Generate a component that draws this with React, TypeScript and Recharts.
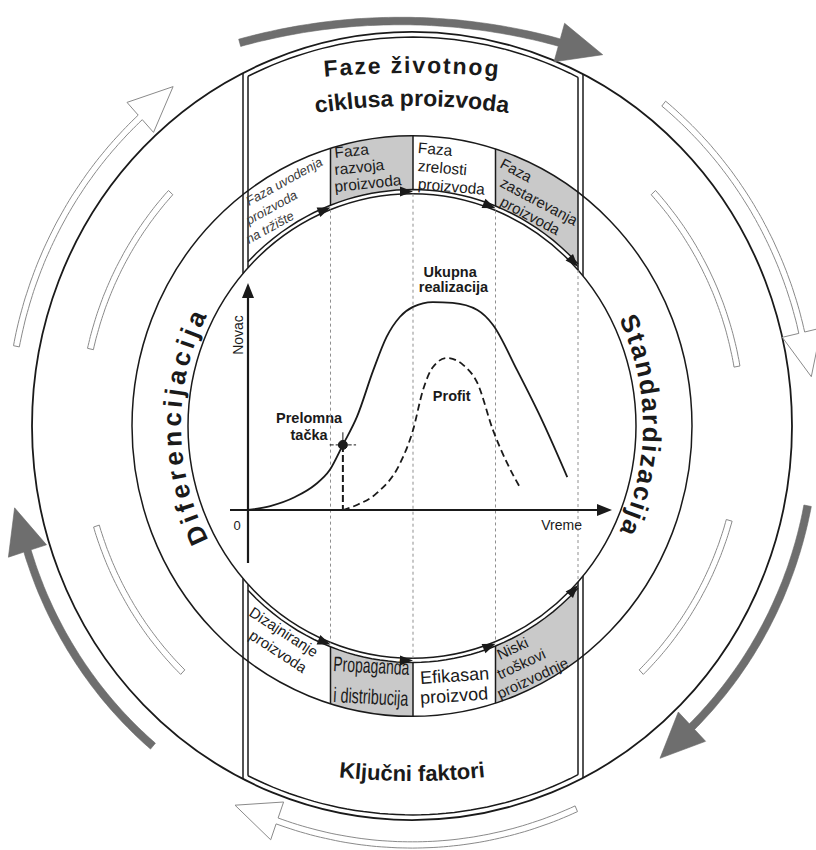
import React from 'react';
import { ComposedChart, Line, XAxis, YAxis, ReferenceLine, ReferenceDot, Customized } from 'recharts';

// time axis in phase units (0..4), money in arbitrary units
const phaseBounds = [1, 2, 3, 4];

const totalT = [0, 0.27, 0.57, 0.81, 0.99, 1.15, 1.32, 1.52, 1.68, 1.84, 2.0, 2.24, 2.48, 2.78, 2.97, 3.26, 3.58, 3.87];
const totalV = [0, 1.9, 6.2, 11.9, 19, 31, 44.3, 66.7, 82.4, 91.9, 96.7, 99, 98.6, 95.2, 88.1, 66.7, 41.4, 15.7];

const profitT = [1.15, 1.32, 1.56, 1.84, 2.0, 2.12, 2.24, 2.41, 2.61, 2.78, 2.97, 3.14, 3.3];
const profitV = [0, 2.4, 8, 22, 38, 57, 68, 72.4, 69, 60.5, 38, 22.4, 10.5];

const breakEvenT = 1.15;
const breakEvenV = 31;

const topPhases = [
  ['Faza uvodenja', 'proizvoda', 'na tržište'],
  ['Faza', 'razvoja', 'proizvoda'],
  ['Faza', 'zrelosti', 'proizvoda'],
  ['Faza', 'zastarevanja', 'proizvoda'],
];
const bottomFactors = [
  ['Dizajniranje', 'proizvoda'],
  ['Propaganda', 'i distribucija'],
  ['Efikasan', 'proizvod'],
  ['Niski', 'troškovi', 'proizvodnje'],
];
const shaded = [false, true, false, true];

const totalData = totalT.map((t, i) => ({ t, v: totalV[i] }));
const profitData = profitT.map((t, i) => ({ t, v: profitV[i] }));

// ---- layout ----
const W = 816;
const H = 850;
const X_DOM: [number, number] = [-0.8, 4.8];
const Y_DOM: [number, number] = [-70, 150];
const MARGIN = { top: 195, right: 172, bottom: 193, left: 182 };
const PW = W - MARGIN.left - MARGIN.right;
const PH = H - MARGIN.top - MARGIN.bottom;
const tx = (t: number) => MARGIN.left + ((t - X_DOM[0]) / (X_DOM[1] - X_DOM[0])) * PW;
const vy = (v: number) => H - MARGIN.bottom - ((v - Y_DOM[0]) / (Y_DOM[1] - Y_DOM[0])) * PH;
const pxT = (x: number) => X_DOM[0] + ((x - MARGIN.left) / PW) * (X_DOM[1] - X_DOM[0]);
const pyV = (y: number) => Y_DOM[0] + ((H - MARGIN.bottom - y) / PH) * (Y_DOM[1] - Y_DOM[0]);

const CX = 412;
const CY = 426;
const K = 1.037;
const R_OUT = 380;
const R_BAND = 375;
const R_MID = 280;
const R_IN = 224;
const R_ARROW = 228;
const INK = '#1a1a1a';
const FONT = "'Liberation Sans', Arial, Helvetica, sans-serif";

const rad = (d: number) => (d * Math.PI) / 180;
type Track = { cx: number; cy: number; r: number; k: number };
const ring = (r: number): Track => ({ cx: CX, cy: CY, r, k: K });
const trackPt = (tr: Track, a: number, off = 0) => [
  tr.cx + (tr.r + off) * Math.sin(rad(a)),
  tr.cy - tr.k * (tr.r + off) * Math.cos(rad(a)),
];
const ringY = (r: number, x: number, upper: boolean) => {
  const d = Math.sqrt(Math.max(0, r * r - (x - CX) ** 2)) * K;
  return upper ? CY - d : CY + d;
};
const span = (r: number, x0: number, x1: number, upper: boolean, n = 40) =>
  Array.from({ length: n + 1 }, (_, i) => {
    const x = x0 + ((x1 - x0) * i) / n;
    return [x, ringY(r, x, upper)];
  });
const pts = (p: number[][]) => p.map((q) => `${q[0].toFixed(1)},${q[1].toFixed(1)}`).join(' ');

const HEAD_L = 45;
const HEAD_W = 20;
function arrowPath(tr: Track, a0: number, a1: number, w: number, head: boolean) {
  const n = 60;
  const outer: number[][] = [];
  const inner: number[][] = [];
  for (let i = 0; i <= n; i++) {
    const a = a0 + ((a1 - a0) * i) / n;
    outer.push(trackPt(tr, a, w / 2));
    inner.push(trackPt(tr, a, -w / 2));
  }
  const p = [...outer];
  if (head) {
    const end = trackPt(tr, a1);
    const nxt = trackPt(tr, a1 + Math.sign(a1 - a0) * 0.5);
    let dx = nxt[0] - end[0];
    let dy = nxt[1] - end[1];
    const l = Math.hypot(dx, dy);
    dx /= l;
    dy /= l;
    const o = trackPt(tr, a1, 1);
    let rx = o[0] - end[0];
    let ry = o[1] - end[1];
    const rl = Math.hypot(rx, ry);
    rx /= rl;
    ry /= rl;
    p.push(
      [end[0] + rx * HEAD_W, end[1] + ry * HEAD_W],
      [end[0] + dx * HEAD_L, end[1] + dy * HEAD_L],
      [end[0] - rx * HEAD_W, end[1] - ry * HEAD_W]
    );
  }
  const all = p.concat(inner.reverse());
  return 'M' + all.map((q) => `${q[0].toFixed(1)},${q[1].toFixed(1)}`).join('L') + 'Z';
}

const grayArrows = [
  { tr: { cx: 400, cy: 621, r: 600, k: 1 }, a0: -15.5, a1: 15.4 },
  { tr: ring(403), a0: 101, a1: 136 },
  { tr: ring(403), a0: 220, a1: 252.6 },
];
const hollowArrows = [
  { tr: ring(403), a0: -79, a1: -42.4, head: true },
  { tr: ring(400), a0: 39, a1: 77, head: true },
  { tr: ring(404), a0: 156, a1: 199.5, head: true },
  { tr: ring(330), a0: -77, a1: -47, head: false },
  { tr: ring(330), a0: 47, a1: 80, head: false },
  { tr: ring(330), a0: 106, a1: 136, head: false },
  { tr: ring(330), a0: 224, a1: 253, head: false },
];

// text placement inside the boxes (start of first line, rotation, step between lines)
const topTextPos = [
  { dx: 1, y: 206, rot: -29, size: 13, step: 19, italic: true },
  { dx: 4.5, y: 158, rot: -6, size: 15.5, step: 17 },
  { dx: 4.5, y: 153, rot: 5, size: 15.5, step: 18 },
  { dx: 3.5, y: 167, rot: 28, size: 15, step: 19 },
];
const bottomTextPos = [
  { dx: 0, y: 615, rot: 33, size: 15, step: 23 },
  { dx: 2.5, y: 671, rot: 3, size: 21, step: 31, fit: 76 },
  { dx: 7.5, y: 684, rot: -4, size: 18, step: 20 },
  { dx: 4.5, y: 660, rot: -25, size: 15, step: 19.5 },
];

const arcD = (tr: Track, a0: number, a1: number, sweep: number) => {
  const s = trackPt(tr, a0);
  const e = trackPt(tr, a1);
  return `M${s[0]},${s[1]} A${tr.r},${tr.r * tr.k} 0 0 ${sweep} ${e[0]},${e[1]}`;
};

function Decor() {
  const bx = [0, 1, 2, 3, 4].map(tx);
  const sides = [true, false];

  const smallHead = (x: number, upper: boolean, key: string) => {
    const r = R_IN + 2;
    const tip = [x, ringY(r, x, upper)];
    const prev = [x - 1, ringY(r, x - 1, upper)];
    let dx = tip[0] - prev[0];
    let dy = tip[1] - prev[1];
    const l = Math.hypot(dx, dy);
    dx /= l;
    dy /= l;
    const b = [tip[0] - dx * 13, tip[1] - dy * 13];
    return (
      <polygon
        key={key}
        points={pts([tip, [b[0] - dy * 5, b[1] + dx * 5], [b[0] + dy * 5, b[1] - dx * 5]])}
        fill={INK}
      />
    );
  };

  return (
    <g>
      <defs>
        <path id="pTitle1" d={arcD({ cx: CX, cy: 1073, r: 1000, k: 1 }, -14, 14, 1)} fill="none" />
        <path id="pTitle2" d={arcD({ cx: CX, cy: 756, r: 650, k: 1 }, -20, 20, 1)} fill="none" />
        <path id="pBottom" d={arcD({ cx: CX, cy: 81, r: 700, k: 1 }, 195, 165, 0)} fill="none" />
        <path id="pLeft" d={arcD(ring(R_IN + 7), 200, 340, 1)} fill="none" />
        <path id="pRight" d={arcD(ring(R_IN + 7), 20, 160, 1)} fill="none" />
      </defs>

      {/* shaded boxes */}
      {sides.map((upper) =>
        [0, 1, 2, 3].map((i) =>
          shaded[i] ? (
            <polygon
              key={`box-${upper}-${i}`}
              points={pts(span(R_MID, bx[i], bx[i + 1], upper).concat(span(R_ARROW, bx[i + 1], bx[i], upper)))}
              fill="#c9c9c9"
            />
          ) : null
        )
      )}

      {/* rings */}
      <ellipse cx={CX} cy={CY} rx={R_OUT} ry={R_OUT * K} fill="none" stroke={INK} strokeWidth={1.8} />
      <ellipse cx={CX} cy={CY} rx={R_MID} ry={R_MID * K} fill="none" stroke={INK} strokeWidth={1.5} />
      <ellipse cx={CX} cy={CY} rx={R_IN} ry={R_IN * K} fill="none" stroke={INK} strokeWidth={1.5} />

      {/* band */}
      {sides.map((upper) => (
        <g key={`band-${upper}`} stroke={INK} strokeWidth={1.5} fill="none">
          <polyline points={pts(span(R_BAND, bx[0], bx[4], upper))} />
          <polyline points={pts(span(R_ARROW, bx[0], bx[4], upper))} />
          {[bx[0] - 5, bx[4] + 5].map((x) => (
            <line key={`o${x}`} x1={x} x2={x} y1={ringY(R_OUT, x, upper)} y2={ringY(R_IN, x, upper)} />
          ))}
          {[bx[0], bx[4]].map((x) => (
            <line key={`i${x}`} x1={x} x2={x} y1={ringY(R_BAND, x, upper)} y2={ringY(R_IN, x, upper)} />
          ))}
          {[1, 2, 3].map((i) => (
            <line key={`d${i}`} x1={bx[i]} x2={bx[i]} y1={ringY(R_ARROW, bx[i], upper)} y2={ringY(R_MID, bx[i], upper)} />
          ))}
        </g>
      ))}
      {sides.map((upper) => [1, 2, 3, 4].map((i) => smallHead(bx[i], upper, `h-${upper}-${i}`)))}

      {/* outer arrows */}
      {grayArrows.map((a, i) => (
        <path key={`g${i}`} d={arrowPath(a.tr, a.a0, a.a1, 7.5, true)} fill="#6e6e6e" stroke="#666" strokeWidth={0.6} />
      ))}
      {hollowArrows.map((a, i) => (
        <path key={`w${i}`} d={arrowPath(a.tr, a.a0, a.a1, 6, a.head)} fill="#fff" stroke="#8a8a8a" strokeWidth={1} />
      ))}

      {/* titles */}
      <text fontFamily={FONT} fontWeight="bold" fontSize={23} letterSpacing={1.8} fill={INK}>
        <textPath href="#pTitle1" startOffset="50%" textAnchor="middle">Faze životnog</textPath>
      </text>
      <text fontFamily={FONT} fontWeight="bold" fontSize={23} fill={INK}>
        <textPath href="#pTitle2" startOffset="50%" textAnchor="middle">ciklusa proizvoda</textPath>
      </text>
      <text fontFamily={FONT} fontWeight="bold" fontSize={22} fill={INK}>
        <textPath href="#pBottom" startOffset="50%" textAnchor="middle">Ključni faktori</textPath>
      </text>
      <text fontFamily={FONT} fontWeight="bold" fontSize={26} letterSpacing={4} fill={INK}>
        <textPath href="#pLeft" startOffset="50%" textAnchor="middle">Diferencijacija</textPath>
      </text>
      <text fontFamily={FONT} fontWeight="bold" fontSize={26} letterSpacing={2} fill={INK}>
        <textPath href="#pRight" startOffset="50%" textAnchor="middle">Standardizacija</textPath>
      </text>

      {/* box texts */}
      {topPhases.map((lines, i) => {
        const p = topTextPos[i];
        const x = bx[i] + p.dx;
        return lines.map((s, j) => {
          const y = p.y + j * p.step;
          return (
            <text
              key={`tp${i}-${j}`}
              x={x}
              y={y}
              transform={`rotate(${p.rot} ${x} ${y})`}
              fontFamily={FONT}
              fontSize={p.size}
              fontStyle={p.italic ? 'italic' : 'normal'}
              fill={p.italic ? '#3a3a3a' : INK}
            >
              {s}
            </text>
          );
        });
      })}
      {bottomFactors.map((lines, i) => {
        const p = bottomTextPos[i];
        const x = bx[i] + p.dx;
        return lines.map((s, j) => {
          const y = p.y + j * p.step;
          const fit = p.fit ? { textLength: p.fit - j, lengthAdjust: 'spacingAndGlyphs' } : {};
          return (
            <text
              key={`bp${i}-${j}`}
              x={x}
              y={y}
              transform={`rotate(${p.rot} ${x} ${y})`}
              fontFamily={FONT}
              fontSize={p.size}
              fill={INK}
              {...fit}
            >
              {s}
            </text>
          );
        });
      })}

      {/* axis arrowheads and labels */}
      <polygon points={pts([[tx(pxT(612)), vy(0)], [tx(pxT(597)), vy(0) - 6], [tx(pxT(597)), vy(0) + 6]])} fill={INK} />
      <polygon points={pts([[tx(0), 283], [tx(0) - 6, 298], [tx(0) + 6, 298]])} fill={INK} />
      <text x={tx(0) - 11} y={vy(0) + 20} fontFamily={FONT} fontSize={13} textAnchor="middle" fill={INK}>0</text>
      <text x={582} y={vy(0) + 20} fontFamily={FONT} fontSize={14} textAnchor="end" fill={INK}>Vreme</text>
      <text x={243} y={335} transform="rotate(-90 243 335)" fontFamily={FONT} fontSize={14} textAnchor="middle" fill={INK}>Novac</text>

      <g fontFamily={FONT} fontWeight="bold" fontSize={14.5} textAnchor="middle" fill={INK}>
        <text x={tx(2.45)} y={vy(111)}>Ukupna</text>
        <text x={tx(2.49)} y={vy(103.8)}>realizacija</text>
        <text x={tx(2.47)} y={vy(52)}>Profit</text>
        <text x={tx(0.74)} y={vy(41.5)}>Prelomna</text>
        <text x={tx(0.74)} y={vy(33.5)}>tačka</text>
      </g>
    </g>
  );
}

export default function App() {
  return (
    <div style={{ position: 'absolute', left: 0, top: 0, width: W, height: H, background: '#fff' }}>
      <ComposedChart width={W} height={H} margin={MARGIN}>
        <XAxis type="number" dataKey="t" domain={X_DOM} allowDataOverflow hide />
        <YAxis type="number" dataKey="v" domain={Y_DOM} allowDataOverflow hide />
        <Customized component={<Decor />} />
        {phaseBounds.map((b) => (
          <ReferenceLine
            key={b}
            segment={[
              { x: b, y: pyV(ringY(R_IN, tx(b), true)) },
              { x: b, y: pyV(ringY(R_IN, tx(b), false)) },
            ]}
            stroke="#8f8f8f"
            strokeDasharray="3 3"
            ifOverflow="visible"
          />
        ))}
        <ReferenceLine
          segment={[{ x: pxT(230), y: 0 }, { x: pxT(600), y: 0 }]}
          stroke={INK}
          strokeWidth={2.2}
          ifOverflow="visible"
        />
        <ReferenceLine
          segment={[{ x: 0, y: pyV(563) }, { x: 0, y: pyV(292) }]}
          stroke={INK}
          strokeWidth={2.2}
          ifOverflow="visible"
        />
        <ReferenceLine
          segment={[{ x: breakEvenT, y: breakEvenV }, { x: breakEvenT, y: 0 }]}
          stroke={INK}
          strokeWidth={2}
          strokeDasharray="7 3"
          ifOverflow="visible"
        />
        <ReferenceLine
          segment={[{ x: breakEvenT - 0.16, y: breakEvenV }, { x: breakEvenT + 0.16, y: breakEvenV }]}
          stroke={INK}
          strokeWidth={1}
          strokeDasharray="4 2"
          ifOverflow="visible"
        />
        <ReferenceLine
          segment={[{ x: breakEvenT, y: breakEvenV }, { x: breakEvenT, y: breakEvenV + 6 }]}
          stroke={INK}
          strokeWidth={1}
          ifOverflow="visible"
        />
        <Line
          data={totalData}
          dataKey="v"
          type="monotone"
          stroke={INK}
          strokeWidth={1.8}
          dot={false}
          activeDot={false}
          isAnimationActive={false}
        />
        <Line
          data={profitData}
          dataKey="v"
          type="monotone"
          stroke={INK}
          strokeWidth={1.8}
          strokeDasharray="7 4"
          dot={false}
          activeDot={false}
          isAnimationActive={false}
        />
        <ReferenceDot x={breakEvenT} y={breakEvenV} r={4.5} fill={INK} stroke={INK} ifOverflow="visible" />
      </ComposedChart>
    </div>
  );
}
